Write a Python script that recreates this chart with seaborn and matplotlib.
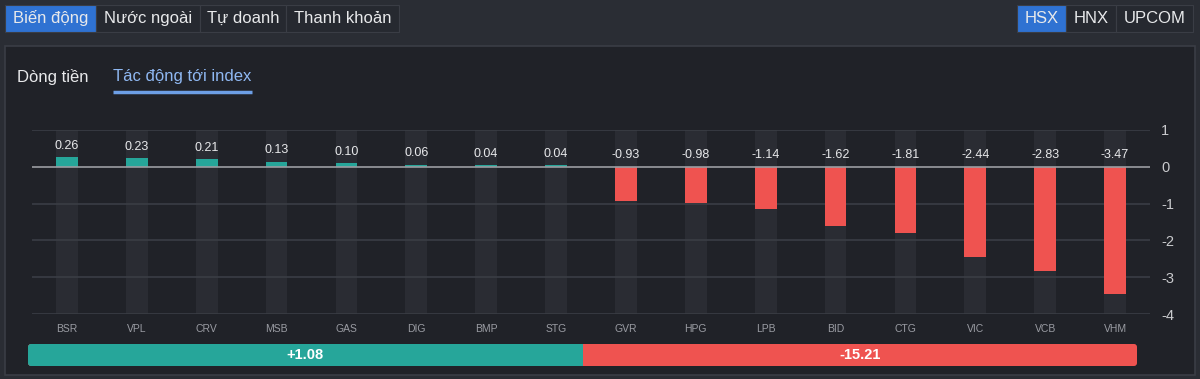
"""Index impact chart (HSX) - dark dashboard style."""

import matplotlib
matplotlib.use("Agg")
import matplotlib.pyplot as plt
from matplotlib.patches import Rectangle, FancyBboxPatch
import pandas as pd
import seaborn as sns

tickers = ["BSR", "VPL", "CRV", "MSB", "GAS", "DIG", "BMP", "STG",
           "GVR", "HPG", "LPB", "BID", "CTG", "VIC", "VCB", "VHM"]
impact = [0.26, 0.23, 0.21, 0.13, 0.10, 0.06, 0.04, 0.04,
          -0.93, -0.98, -1.14, -1.62, -1.81, -2.44, -2.83, -3.47]
total_up = 1.08
total_down = -15.21
y_ticks = [1, 0, -1, -2, -3, -4]

main_tabs = ["Biến động", "Nước ngoài", "Tự doanh", "Thanh khoản"]
market_tabs = ["HSX", "HNX", "UPCOM"]

OUTER = "#2a2d34"
PANEL = "#202228"
BORDER = "#3a3d45"
BLUE = "#2f72d2"
GREEN = "#26a69a"
RED = "#ef5350"
TEXT = "#e8e9eb"

sns.set_theme(style="dark")
plt.rcParams["font.family"] = ["Liberation Sans", "DejaVu Sans"]
plt.rcParams["axes.unicode_minus"] = False

W, H = 1200, 379
fig = plt.figure(figsize=(W / 100, H / 100), dpi=100, facecolor=OUTER)

# background layer in pixel coordinates
bg = fig.add_axes([0, 0, 1, 1], zorder=0)
bg.set_xlim(0, W)
bg.set_ylim(H, 0)
bg.axis("off")
bg.set_facecolor(OUTER)


def tab_row(labels, x0, widths, active):
    x = x0
    for i, (lab, w) in enumerate(zip(labels, widths)):
        fc = BLUE if i == active else "#262930"
        bg.add_patch(Rectangle((x, 5), w, 27, facecolor=fc, edgecolor=BORDER, lw=0.8))
        bg.text(x + w / 2, 18.5, lab, ha="center", va="center", color=TEXT, fontsize=12)
        x += w


tab_row(main_tabs, 5, [91, 104, 86, 113], 0)
tab_row(market_tabs, 1017, [49, 50, 77], 0)

# main panel
bg.add_patch(Rectangle((5, 46), 1190, 329, facecolor=PANEL, edgecolor=BORDER, lw=1.2))
bg.text(17, 77, "Dòng tiền", ha="left", va="center", color=TEXT, fontsize=12)
bg.text(113, 77, "Tác động tới index", ha="left", va="center", color="#8fb8f2", fontsize=12)
bg.plot([113, 252], [92, 92], color="#6d9fe6", lw=2.5, solid_capstyle="butt")

# summary bar (split by number of gainers vs losers)
n_up = sum(v > 0 for v in impact)
split = 28 + (1137 - 28) * n_up / len(impact)
bg.add_patch(FancyBboxPatch((28, 344), 1137 - 28, 22, boxstyle="round,pad=0,rounding_size=3",
                            facecolor=RED, edgecolor="none"))
bg.add_patch(FancyBboxPatch((28, 344), split - 28, 22, boxstyle="round,pad=0,rounding_size=3",
                            facecolor=GREEN, edgecolor="none"))
bg.add_patch(Rectangle((split - 4, 344), 4, 22, facecolor=GREEN, edgecolor="none"))
bg.text((28 + split) / 2, 355, f"+{total_up:.2f}", ha="center", va="center",
        color="white", fontsize=10.5, fontweight="bold")
bg.text((split + 1137) / 2, 355, f"{total_down:.2f}", ha="center", va="center",
        color="white", fontsize=10.5, fontweight="bold")

# chart axes
ax = fig.add_axes([32 / W, 1 - 314 / H, (1150 - 32) / W, (314 - 130) / H], zorder=1)
ax.set_facecolor("none")

df = pd.DataFrame({"ticker": tickers, "impact": impact})
df["side"] = ["up" if v > 0 else "down" for v in impact]

ymin, ymax = min(y_ticks), max(y_ticks)
# faint column behind every ticker
ax.bar(df["ticker"], ymax - ymin, bottom=ymin, width=0.31, color="#2a2c33",
       linewidth=0, zorder=1)
sns.barplot(data=df, x="ticker", y="impact", hue="side",
            palette={"up": GREEN, "down": RED}, width=0.31, dodge=False,
            legend=False, saturation=1, linewidth=0, ax=ax, zorder=3)

for i, v in enumerate(impact):
    base = v if v > 0 else 0
    ax.annotate(f"{v:.2f}", (i, base), xytext=(0, 4), textcoords="offset points",
                ha="center", va="bottom", color=TEXT, fontsize=9)

ax.set_ylim(ymin, ymax)
ax.set_xlim(-0.5, len(tickers) - 0.5)
ax.set_yticks(y_ticks)
ax.yaxis.tick_right()
ax.tick_params(axis="y", colors="#c9cacd", labelsize=10.5, length=0, pad=8)
ax.tick_params(axis="x", colors="#9a9ca3", labelsize=7.5, length=0, pad=7)
ax.set_xlabel("")
ax.set_ylabel("")
for t in y_ticks:
    ax.axhline(t, color="#9b9da2" if t == 0 else "#3a3d45", lw=1.2, zorder=2 if t else 4)
for s in ax.spines.values():
    s.set_visible(False)
ax.grid(False)

fig.savefig("out.png", dpi=100, facecolor=OUTER)
